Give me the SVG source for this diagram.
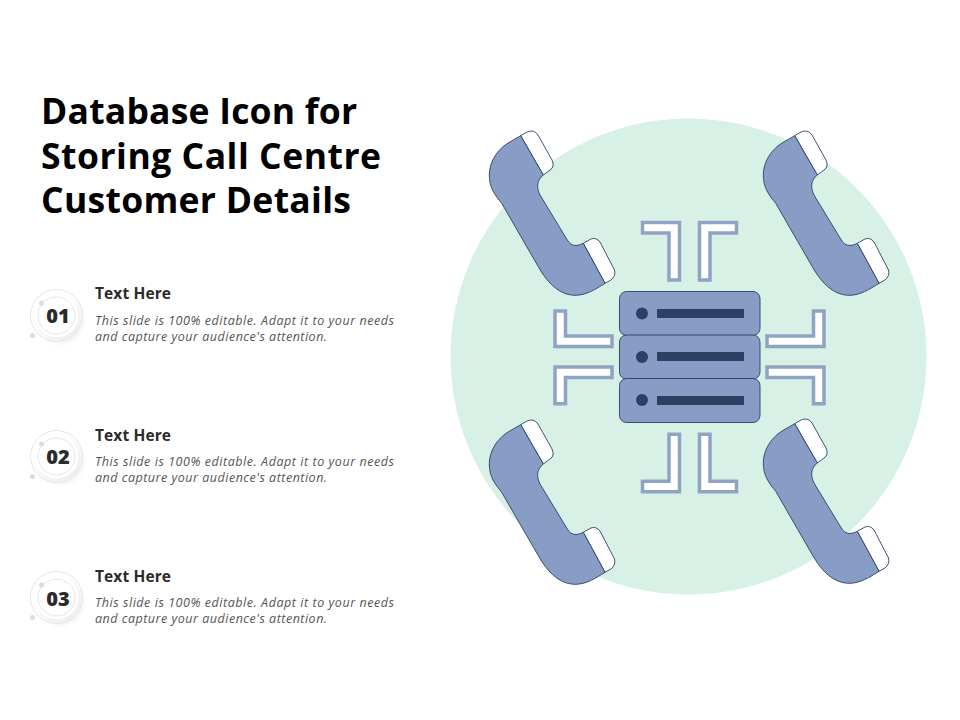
<svg xmlns="http://www.w3.org/2000/svg" width="960" height="720" viewBox="0 0 960 720">
<style>
.title{font:700 35.500px "Open Sans","Liberation Sans",sans-serif;fill:#000}
.head{font:700 15.500px "Open Sans","Liberation Sans",sans-serif;fill:#2b2b2b}
.body{font:italic 400 12.500px "Open Sans","Liberation Sans",sans-serif;fill:#555}
.num{font:800 20px "Open Sans","Liberation Sans",sans-serif;fill:#2b2b2b;text-anchor:middle}
.blue{fill:#879dc5;stroke:#2b4063;stroke-width:.9}
.white{fill:#fff;stroke:#2b4063;stroke-width:.9}
.br{fill:#fff;stroke:#8fa3c2;stroke-width:3.500}
.dark{fill:#2b4063}
.ring{fill:none;stroke:#e6e6e6;stroke-width:1}
.dot{fill:#dcdcdc}
</style>
<defs>
<g id="phone">
<path class="white" d="M520.700,135.700L527,132Q534,129 538,135L552,160Q555,167 550,170L543.300,175Z"/>
<path class="white" d="M583.300,243.300L591,239Q596,237 600,242L614.500,270Q616,276 611,280L605,283.300Z"/>
<path class="blue" d="M520.700,135.700L508,143C497,150 489.300,162 489.300,175C489.300,188 495,195 501.700,203.300L538.300,266.700C548,284 560,295 575,295.300C586,295.500 596,289 605,283.300L583.300,243.300C576,247 571,246 567.300,240L540,195C536,187 537,180 543.300,175Z"/>
</g>
<filter id="soft" x="-30%" y="-30%" width="160%" height="160%"><feGaussianBlur stdDeviation="2.500"/></filter>
<g id="badge">
<circle cx="60" cy="320" r="23" fill="#ececec" filter="url(#soft)" opacity="0.8"/>
<circle cx="56.500" cy="315.500" r="22" fill="#fff"/>
<circle class="ring" cx="56.500" cy="315.500" r="26"/>
<circle class="ring" cx="56.500" cy="315.500" r="18.500"/>
<circle class="dot" cx="41.500" cy="303" r="2.500"/>
<circle class="dot" cx="32.500" cy="335.500" r="2.500"/>
</g>
</defs>
<rect width="960" height="720" fill="#fff"/>
<circle id="backdrop" cx="688.500" cy="356.500" r="238" fill="#d8f1e6"/>
<g id="title" class="title">
<text x="41" y="124" textLength="316">Database Icon for</text>
<text x="41" y="169" textLength="340">Storing Call Centre</text>
<text x="41" y="213" textLength="310">Customer Details</text>
</g>
<g id="item-01">
<use href="#badge"/>
<text class="num" x="58" y="323">01</text>
<text class="head" x="95" y="299" textLength="76">Text Here</text>
<text class="body" x="95" y="325" textLength="299">This slide is 100% editable.  Adapt it to your needs</text>
<text class="body" x="95" y="341" textLength="232">and capture your audience's attention.</text>
</g>
<g id="item-02">
<use href="#badge" y="141"/>
<text class="num" x="58" y="464">02</text>
<text class="head" x="95" y="441" textLength="76">Text Here</text>
<text class="body" x="95" y="466" textLength="299">This slide is 100% editable.  Adapt it to your needs</text>
<text class="body" x="95" y="482" textLength="232">and capture your audience's attention.</text>
</g>
<g id="item-03">
<use href="#badge" y="282"/>
<text class="num" x="58" y="606">03</text>
<text class="head" x="95" y="582" textLength="76">Text Here</text>
<text class="body" x="95" y="607" textLength="299">This slide is 100% editable.  Adapt it to your needs</text>
<text class="body" x="95" y="623" textLength="232">and capture your audience's attention.</text>
</g>
<g id="phone-tl"><use href="#phone"/></g>
<g id="phone-tr"><use href="#phone" x="274"/></g>
<g id="phone-bl"><use href="#phone" y="289"/></g>
<g id="phone-br"><use href="#phone" x="274" y="288"/></g>
<g id="connectors">
<path class="br" d="M642.500,222.500H679.500V280H669V233H642.500Z"/>
<path class="br" d="M736.500,222.500H699.500V280H710V233H736.500Z"/>
<path class="br" d="M642.500,491.800H679.500V434.300H669V481.300H642.500Z"/>
<path class="br" d="M736.500,491.800H699.500V434.300H710V481.300H736.500Z"/>
<path class="br" d="M555,311V346.500H612V336H565.500V311Z"/>
<path class="br" d="M555,403.800V367H612V377.500H565.500V403.800Z"/>
<path class="br" d="M824,311V346.500H767V336H813.500V311Z"/>
<path class="br" d="M824,403.800V367H767V377.500H813.500V403.800Z"/>
</g>
<g id="server">
<rect class="blue" x="619.500" y="291.500" width="140.500" height="44" rx="7"/>
<rect class="blue" x="619.500" y="335" width="140.500" height="44" rx="7"/>
<rect class="blue" x="619.500" y="378.500" width="140.500" height="44" rx="7"/>
<circle class="dark" cx="642" cy="313.500" r="6"/>
<circle class="dark" cx="642" cy="357" r="6"/>
<circle class="dark" cx="642" cy="400" r="6"/>
<rect class="dark" x="657" y="309" width="87" height="9"/>
<rect class="dark" x="657" y="352" width="87" height="9"/>
<rect class="dark" x="657" y="396" width="87" height="9"/>
</g>
</svg>
